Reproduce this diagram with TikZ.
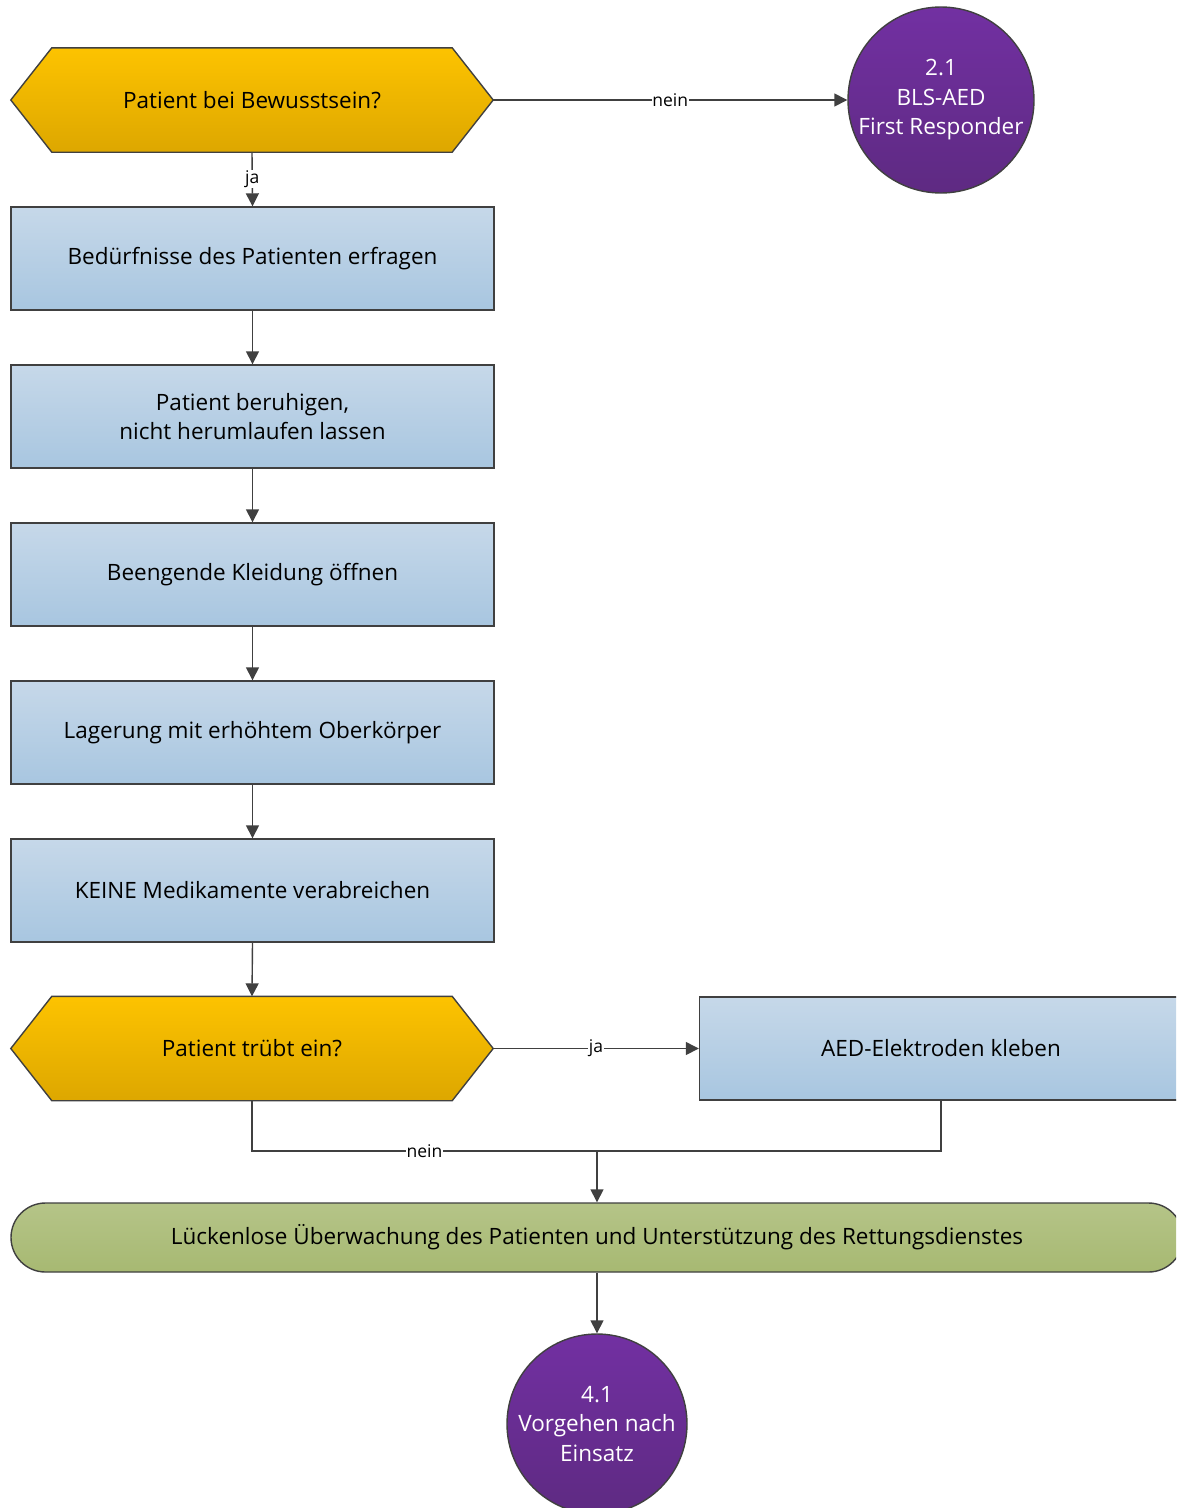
\documentclass[tikz,border=0pt]{standalone}
\usepackage{fontspec}
\setmainfont{Open Sans}
\usetikzlibrary{arrows.meta}
\definecolor{edge}{HTML}{404040}
\definecolor{yelT}{HTML}{FDC300}
\definecolor{yelB}{HTML}{DDA700}
\definecolor{bluT}{HTML}{C6D8E9}
\definecolor{bluB}{HTML}{A8C6E0}
\definecolor{grnT}{HTML}{B5C488}
\definecolor{grnB}{HTML}{A7B972}
\definecolor{purT}{HTML}{7230A2}
\definecolor{purB}{HTML}{5E2A82}
\tikzset{
  txt/.style={font=\fontsize{22.5}{29.5}\selectfont, align=center, text=black},
  stepbox/.style={txt, draw=edge, line width=1.4pt, top color=bluT, bottom color=bluB,
    minimum width=483pt, minimum height=103pt, inner sep=0pt},
  hexnode/.style={txt, minimum width=482pt, minimum height=104pt, inner sep=0pt},
  hexfill/.style={draw=edge, line width=1.4pt, top color=yelT, bottom color=yelB},
  termbox/.style={txt, draw=edge, line width=1.4pt, top color=grnT, bottom color=grnB,
    rounded corners=34.5pt, minimum width=1172pt, minimum height=69pt, inner sep=0pt},
  conn/.style={txt, circle, draw=edge, line width=1.4pt, top color=purT, bottom color=purB,
    text=white, inner sep=0pt},
  arr/.style={draw=edge, line width=1.4pt, -{Triangle[length=13pt,width=13pt]}},
  ln/.style={draw=edge, line width=1.4pt},
  lbl/.style={font=\fontsize{17.5}{20}\selectfont, fill=white, inner sep=0.5pt, text=black},
}
\begin{document}
\begin{tikzpicture}[x=1pt,y=-1pt]
\useasboundingbox (0,0) rectangle (1176,1508);
\clip (0,0) rectangle (1176,1508);
\fill[white] (0,0) rectangle (1176,1508);

% decision 1
\node[hexnode] (d1) at (252,100) {};
\path[hexfill] (d1.west) -- ([xshift=41pt]d1.north west) -- ([xshift=-41pt]d1.north east)
  -- (d1.east) -- ([xshift=-41pt]d1.south east) -- ([xshift=41pt]d1.south west) -- cycle;
\node[txt] at (d1.center) {Patient bei Bewusstsein?};

\node[conn, minimum size=186pt] (c1) at (941,100) {2.1\\BLS-AED\\First Responder};

\node[stepbox] (b1) at (252.5,258.5) {Bedürfnisse des Patienten erfragen};
\node[stepbox] (b2) at (252.5,416.5) {Patient beruhigen,\\nicht herumlaufen lassen};
\node[stepbox] (b3) at (252.5,574.5) {Beengende Kleidung öffnen};
\node[stepbox] (b4) at (252.5,732.5) {Lagerung mit erhöhtem Oberkörper};
\node[stepbox] (b5) at (252.5,890.5) {KEINE Medikamente verabreichen};

% decision 2
\node[hexnode] (d2) at (252,1048.5) {};
\path[hexfill] (d2.west) -- ([xshift=41pt]d2.north west) -- ([xshift=-41pt]d2.north east)
  -- (d2.east) -- ([xshift=-41pt]d2.south east) -- ([xshift=41pt]d2.south west) -- cycle;
\node[txt] at (d2.center) {Patient trübt ein?};

\node[stepbox] (aed) at (941,1048.5) {AED-Elektroden kleben};

\node[termbox] (t) at (597,1237.5) {Lückenlose Überwachung des Patienten und Unterstützung des Rettungsdienstes};

\node[conn, minimum size=180pt] (c2) at (597,1424) {4.1\\Vorgehen nach\\Einsatz};

% connectors
\draw[arr] (d1.east) -- node[lbl, pos=0.5] {nein} (c1.west);
\draw[arr] (d1.south) -- node[lbl, pos=0.5] {ja} (b1.north);
\draw[arr] (b1) -- (b2);
\draw[arr] (b2) -- (b3);
\draw[arr] (b3) -- (b4);
\draw[arr] (b4) -- (b5);
\draw[arr] (b5.south) -- (d2.north);
\draw[arr] (d2.east) -- node[lbl, pos=0.5] {ja} (aed.west);
\coordinate (m) at (597,1151);
\draw[ln] (d2.south) |- node[lbl, pos=0.75] {nein} (m);
\draw[ln] (aed.south) |- (m);
\draw[arr] (m) -- (t.north);
\draw[arr] (t.south) -- (c2.north);
\end{tikzpicture}
\end{document}
